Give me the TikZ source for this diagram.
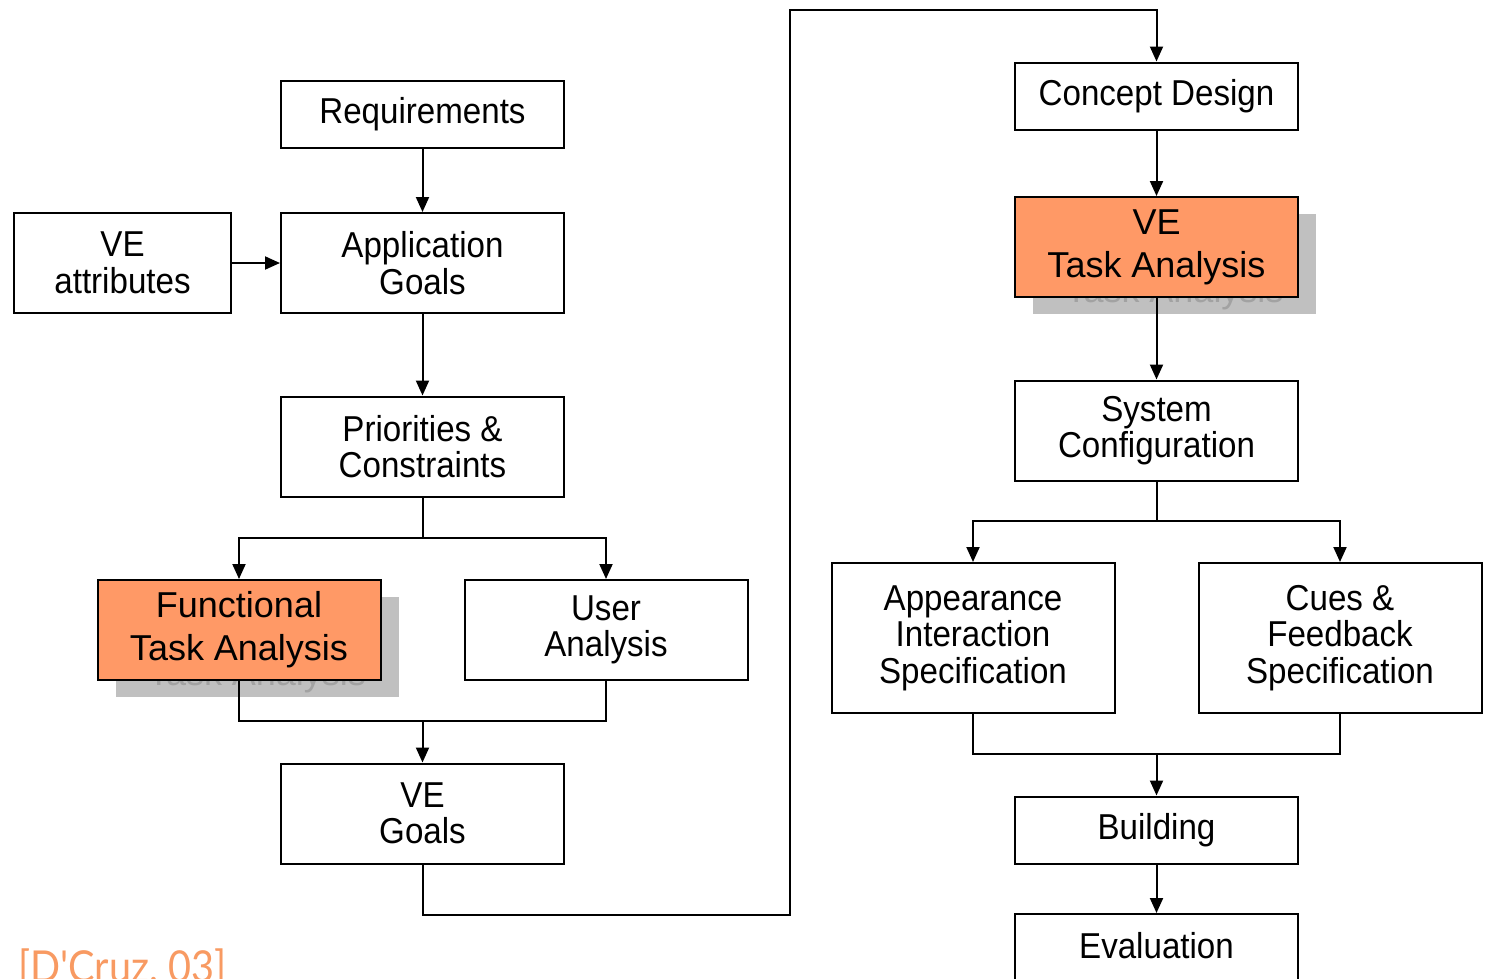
\documentclass[tikz,border=0pt]{standalone}
\usepackage{fontspec}
\usetikzlibrary{arrows.meta}
\newfontfamily\boxfamily[FakeStretch=0.92]{Liberation Sans}
\newfontfamily\taskfamily{Liberation Sans}
\newfontfamily\citefamily[FakeStretch=0.9]{Lato}
\definecolor{taskorange}{RGB}{255,153,102}
\definecolor{shadowgray}{RGB}{192,192,192}
\definecolor{ghostgray}{RGB}{162,162,162}
\definecolor{citeorange}{RGB}{248,154,98}
\begin{document}
\begin{tikzpicture}[x=1pt,y=-1pt,
  box/.style={draw, line width=2pt, fill=white, minimum width=283pt,
    minimum height=100pt, inner sep=0pt, align=center,
    font=\boxfamily\fontsize{36}{36.5}\selectfont},
  short/.style={minimum height=67pt},
  taskbox/.style={box, fill=taskorange,
    font=\taskfamily\fontsize{36}{43}\selectfont},
  shadowbox/.style={box, draw=none, fill=shadowgray, text=ghostgray,
    text height=84pt, font=\taskfamily\fontsize{36}{43}\selectfont},
  conn/.style={line width=2pt},
  arr/.style={conn, -{Triangle[length=15pt,width=13pt]}}]
\useasboundingbox (0,0) rectangle (1486,978);
\clip (0,0) rectangle (1486,978);
\fill[white] (0,0) rectangle (1486,978);

% left column
\node[box, short] (req) at (422.5,114) {Requirements};
\node[box, minimum width=217pt] (vea) at (122.5,263) {VE\\attributes};
\node[box] (app) at (422.5,263) {Application\\Goals};
\node[box] (pri) at (422.5,446.5) {Priorities \&\\Constraints};
\node[shadowbox] (ftas) at (257,647) {Functional\\Task Analysis};
\node[taskbox] (fta) at (239,630) {Functional\\Task Analysis};
\node[box] (usr) at (606,630) {User\\Analysis};
\node[box] (veg) at (422.5,813.5) {VE\\Goals};

% right column
\node[box, short] (cd) at (1156.5,96) {Concept Design};
\node[shadowbox] (vetas) at (1174.5,264) {VE\\Task Analysis};
\node[taskbox] (veta) at (1156.5,247) {VE\\Task Analysis};
\node[box] (sys) at (1156.5,430.5) {System\\Configuration};
\node[box, minimum height=150pt] (ais) at (973,638) {Appearance\\Interaction\\Specification};
\node[box, minimum height=150pt] (cfs) at (1340,638) {Cues \&\\Feedback\\Specification};
\node[box, short] (bld) at (1156.5,830) {Building};
\node[box, minimum height=120pt, text depth=58pt, anchor=north] (eva) at (1156.5,913) {Evaluation};

% junction points
\coordinate (s1) at (422.5,538);
\coordinate (m1) at (422.5,721);
\coordinate (lo) at (790,915);
\coordinate (hi) at (790,10);
\coordinate (s2) at (1156.5,521);
\coordinate (m2) at (1156.5,754);

% left connectors
\draw[arr] (req) -- (app);
\draw[arr] (vea) -- (app);
\draw[arr] (app) -- (pri);
\draw[conn] (pri) -- (s1);
\draw[arr] (s1) -| (fta);
\draw[arr] (s1) -| (usr);
\draw[conn] (fta) |- (m1) -| (usr);
\draw[arr] (m1) -- (veg);

% link between the two columns
\draw[arr] (veg) |- (lo) -- (hi) -| (cd);

% right connectors
\draw[arr] (cd) -- (veta);
\draw[arr] (veta) -- (sys);
\draw[conn] (sys) -- (s2);
\draw[arr] (s2) -| (ais);
\draw[arr] (s2) -| (cfs);
\draw[conn] (ais) |- (m2) -| (cfs);
\draw[arr] (m2) -- (bld);
\draw[arr] (bld) -- (eva);

% citation
\node[anchor=base west, inner sep=0pt, text=citeorange,
  font=\citefamily\fontsize{44}{48}\selectfont] (cite) at (18,982) {[D'Cruz, 03]};
\end{tikzpicture}
\end{document}
